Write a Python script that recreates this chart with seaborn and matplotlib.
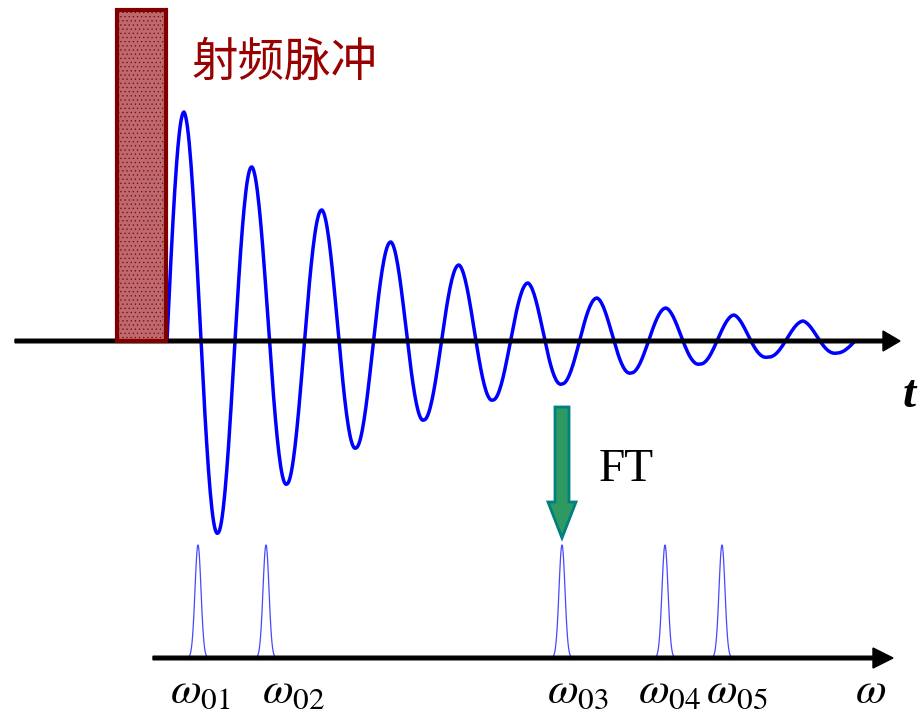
import numpy as np
import matplotlib
matplotlib.use("Agg")
import matplotlib.pyplot as plt
import matplotlib.patches as patches
import seaborn as sns

# FID wave: extrema (pixel coords, y down)
baseline_t = 341
wave_start, wave_end = 167, 855
ext_x = [184, 218, 252, 287, 322, 356, 391, 424, 459, 493,
         528, 562, 597, 631, 666, 700, 734, 768, 803, 837]
ext_y = [112, 533, 167, 484, 210, 448, 242, 420, 265, 400,
         283, 384, 298, 373, 308, 364, 315, 357, 321, 353]

# spectrum after FT
baseline_w = 658
peak_pos = [198, 266, 562, 665, 722]
peak_top = [545, 545, 545, 545, 545]
peak_sigma = 3.0
labels = [r"$\omega_{01}$", r"$\omega_{02}$", r"$\omega_{03}$",
          r"$\omega_{04}$", r"$\omega_{05}$"]
label_x = [170, 262, 547, 638, 706]


def fid_curve(x0, x1, xs, ys, base):
    # smooth damped oscillation passing through the read extrema
    amps = [base - y for y in ys]
    px, py = [], []
    s = np.linspace(0, 1, 40)
    # rise from zero crossing to first peak
    px += list(x0 + (xs[0] - x0) * s)
    py += list(base - amps[0] * np.sin(np.pi / 2 * s))
    for i in range(len(xs) - 1):
        a0, a1 = abs(amps[i]), abs(amps[i + 1])
        sgn = np.sign(amps[i])
        amp = a0 + (a1 - a0) * s
        px += list(xs[i] + (xs[i + 1] - xs[i]) * s[1:])
        py += list(base - sgn * amp[1:] * np.cos(np.pi * s[1:]))
    px += list(xs[-1] + (x1 - xs[-1]) * s[1:])
    py += list(base - amps[-1] * np.cos(np.pi / 2 * s[1:]))
    return np.array(px), np.array(py)


sns.set_style("white")
plt.rcParams["mathtext.fontset"] = "stix"
plt.rcParams["text.color"] = "black"
plt.rcParams["hatch.linewidth"] = 0.4

fig = plt.figure(figsize=(9.18, 7.2), dpi=100)
ax = fig.add_axes([0, 0, 1, 1])
ax.set_xlim(0, 918)
ax.set_ylim(720, 0)
ax.axis("off")

# wave
wx, wy = fid_curve(wave_start, wave_end, ext_x, ext_y, baseline_t)
sns.lineplot(x=wx, y=wy, sort=False, estimator=None, color="#0000ff",
             linewidth=2.5, ax=ax, zorder=2)

# time axis
ax.arrow(15, baseline_t, 885, 0, width=3.6, head_width=20, head_length=17,
         length_includes_head=True, fc="black", ec="black", zorder=3)
ax.text(903, 407, "t", fontsize=34, family="Liberation Serif", style="italic",
        fontweight="bold", color="black", ha="left", va="baseline")

# RF pulse
rc = patches.Rectangle((117, 10), 49, 331, facecolor="#bc6a6e", edgecolor="#800000",
                       linewidth=3, hatch="....", zorder=4)
ax.add_patch(rc)
ax.text(192, 63, "射频脉冲", fontsize=33.5, color="#990000",
        family=["Noto Sans CJK SC", "DejaVu Sans"], ha="left", va="center")

# FT arrow
ax.arrow(562, 407, 0, 131, width=14, head_width=28, head_length=36,
         length_includes_head=True, fc="#2e9a62", ec="#008080", linewidth=2, zorder=4)
ax.text(599, 470, "FT", fontsize=34, family="Liberation Serif", color="black",
        ha="left", va="center")

# spectrum peaks
for c, top in zip(peak_pos, peak_top):
    px = np.linspace(c - 11, c + 11, 120)
    py = baseline_w - (baseline_w - top) * np.exp(-0.5 * ((px - c) / peak_sigma) ** 2)
    sns.lineplot(x=px, y=py, sort=False, estimator=None, color="#4848ff",
                 linewidth=0.9, ax=ax, zorder=2)

# frequency axis
ax.arrow(153, baseline_w, 740, 0, width=3.6, head_width=20, head_length=20,
         length_includes_head=True, fc="black", ec="black", zorder=3)

for lx, lab in zip(label_x, labels):
    ax.text(lx, 703, lab, fontsize=32, color="black", ha="left", va="baseline")
ax.text(855, 703, r"$\omega$", fontsize=32, color="black", ha="left", va="baseline")

fig.savefig("out.png", dpi=100)
